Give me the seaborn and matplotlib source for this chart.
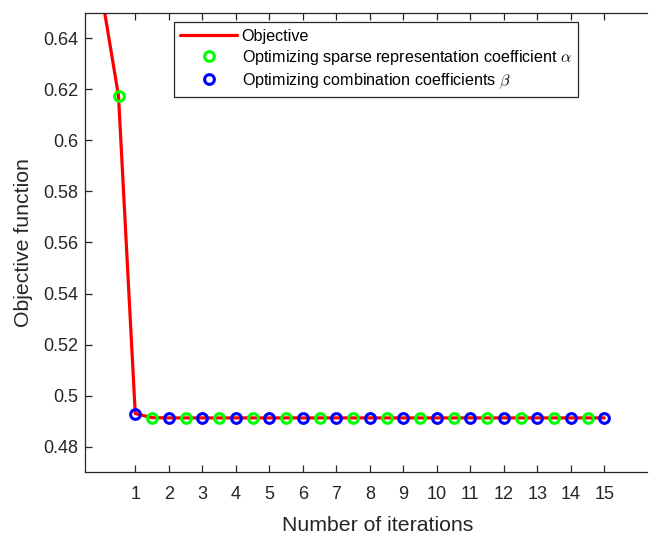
import matplotlib
matplotlib.use("Agg")
import matplotlib.pyplot as plt
import seaborn as sns
import pandas as pd

# Objective value along the alternating optimisation (half steps = alpha update, whole steps = beta update)
iter_pos = [0, 0.5, 1, 1.5, 2, 2.5, 3, 3.5, 4, 4.5, 5, 5.5, 6, 6.5, 7, 7.5,
            8, 8.5, 9, 9.5, 10, 10.5, 11, 11.5, 12, 12.5, 13, 13.5, 14, 14.5, 15]
objective = [0.657, 0.6174, 0.4930, 0.4914, 0.4913, 0.4913, 0.4913, 0.4913,
             0.4913, 0.4913, 0.4913, 0.4913, 0.4913, 0.4913, 0.4913, 0.4913,
             0.4913, 0.4913, 0.4913, 0.4913, 0.4913, 0.4913, 0.4913, 0.4913,
             0.4913, 0.4913, 0.4913, 0.4913, 0.4913, 0.4913, 0.4913]

x_ticks = list(range(1, 16))
y_ticks = [0.48, 0.50, 0.52, 0.54, 0.56, 0.58, 0.60, 0.62, 0.64]
y_tick_labels = ["0.48", "0.5", "0.52", "0.54", "0.56", "0.58", "0.6", "0.62", "0.64"]

df = pd.DataFrame({"iter": iter_pos, "obj": objective})
alpha_steps = df[(df["iter"] * 2) % 2 == 1]
beta_steps = df[(df["iter"] >= 1) & ((df["iter"] * 2) % 2 == 0)]

sns.set_style("white")
plt.rcParams["font.family"] = ["Liberation Sans", "DejaVu Sans"]
plt.rcParams["mathtext.fontset"] = "cm"

ink = "#262626"
fig = plt.figure(figsize=(6.62, 5.35), dpi=100)
# unit step on x is 33.5 px
ax_w = 562
ax = fig.add_axes([85 / 662, 1 - 472.3 / 535, ax_w / 662, (472.3 - 12.7) / 535])

marker_kws = dict(linestyle="", marker="o", markersize=7, markerfacecolor="none",
                  markeredgewidth=2.2, estimator=None, zorder=3)

sns.lineplot(data=df, x="iter", y="obj", ax=ax, color="#ff0000", lw=2.3,
             label="Objective", sort=False, estimator=None, zorder=2)
sns.lineplot(data=alpha_steps, x="iter", y="obj", ax=ax, color="#00ff00",
             markeredgecolor="#00ff00",
             label=r"Optimizing sparse representation coefficient $\alpha$", **marker_kws)
sns.lineplot(data=beta_steps, x="iter", y="obj", ax=ax, color="#0000ff",
             markeredgecolor="#0000ff",
             label=r"Optimizing combination coefficients $\beta$", **marker_kws)

x_lo = -0.5
ax.set_xlim(x_lo, x_lo + ax_w / 33.5)
ax.set_ylim(0.47, 0.65)
ax.set_xticks(x_ticks)
ax.set_xticklabels([str(t) for t in x_ticks])
ax.set_yticks(y_ticks)
ax.set_yticklabels(y_tick_labels)

# box is open on the right
for side in ["left", "bottom", "top"]:
    ax.spines[side].set_visible(True)
    ax.spines[side].set_color(ink)
    ax.spines[side].set_linewidth(0.9)
ax.spines["right"].set_visible(False)

ax.tick_params(axis="both", direction="in", length=4.7, width=0.9, color=ink,
               labelcolor=ink, labelsize=13)
ax.tick_params(axis="x", top=True, bottom=True, pad=10)
ax.tick_params(axis="y", left=True, right=False, pad=5)

ax.set_xlabel("Number of iterations", fontsize=15.3, color=ink, labelpad=9)
ax.xaxis.label.set_x((377.5 - 85) / ax_w)
ax.set_ylabel("Objective function", fontsize=15.3, color=ink, labelpad=7)

leg = ax.legend(loc="upper left", bbox_to_anchor=(174 / 662, 1 - 22.3 / 535),
                bbox_transform=fig.transFigure, borderaxespad=0, fontsize=11.6,
                frameon=True, fancybox=False, framealpha=1, edgecolor=ink,
                handlelength=3.5, handletextpad=0.3, labelspacing=0.26,
                borderpad=0.4)
leg.get_frame().set_linewidth(0.9)
for t in leg.get_texts():
    t.set_color("#000000")

fig.savefig("out.png", dpi=100)
